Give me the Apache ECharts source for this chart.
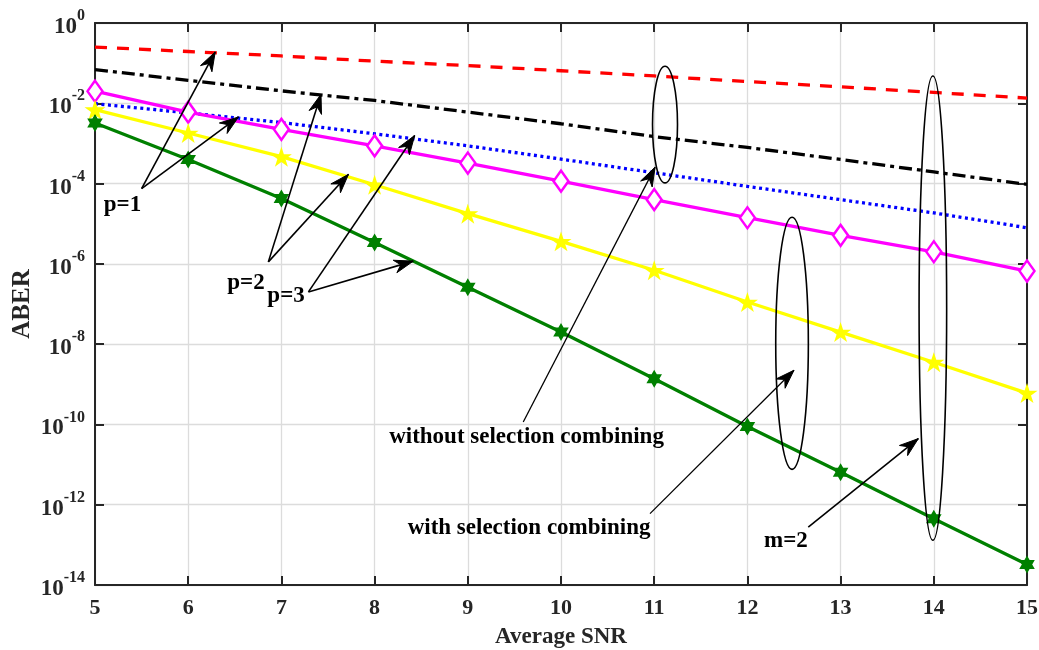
<!DOCTYPE html>
<html><head><meta charset="utf-8">
<script src="https://cdn.jsdelivr.net/npm/echarts@6/dist/echarts.min.js"></script>
<style>html,body{margin:0;padding:0;background:#fff}#c{width:1039px;height:650px}</style>
</head><body><div id="c"></div>
<script>
// ---- data ----
const snr = [5, 6, 7, 8, 9, 10, 11, 12, 13, 14, 15];
// without selection combining
const p1Without = [0.251, 0.195, 0.151, 0.112, 0.0871, 0.0646, 0.0479, 0.0347, 0.0257, 0.0186, 0.0135];
const p2Without = [0.0692, 0.0372, 0.0204, 0.01175, 0.00603, 0.00309, 0.00148, 7.94e-4, 3.98e-4, 1.95e-4, 9.55e-5];
const p3Without = [9.77e-3, 5.75e-3, 3.31e-3, 1.74e-3, 8.71e-4, 4.07e-4, 1.86e-4, 8.51e-5, 3.98e-5, 1.86e-5, 7.94e-6];
// with selection combining
const p1With = [0.0200, 6.03e-3, 2.24e-3, 8.71e-4, 3.24e-4, 1.15e-4, 3.98e-5, 1.41e-5, 5.13e-6, 2.00e-6, 6.61e-7];
const p2With = [6.92e-3, 1.82e-3, 4.68e-4, 9.33e-5, 1.78e-5, 3.63e-6, 6.92e-7, 1.12e-7, 2.00e-8, 3.55e-9, 6.03e-10];
const p3With = [3.24e-3, 3.98e-4, 4.27e-5, 3.39e-6, 2.63e-7, 2.00e-8, 1.38e-9, 8.91e-11, 6.46e-12, 4.47e-13, 3.24e-14];

const xTitle = 'Average SNR';
const yTitle = 'ABER';

// annotations (data coordinates)
const annoTexts = [
  { text: 'p=1', at: [5.295, 2.84e-5] },
  { text: 'p=2', at: [6.62, 3.27e-7] },
  { text: 'p=3', at: [7.05, 1.55e-7] },
  { text: 'without selection combining', at: [9.63, 4.85e-11] },
  { text: 'with selection combining', at: [9.657, 2.58e-13] },
  { text: 'm=2', at: [12.414, 1.22e-13] }
];
const annoArrows = [
  [[5.50, 7.5e-5], [6.29, 0.19]],
  [[5.50, 7.5e-5], [6.54, 4.57e-3]],
  [[6.86, 1.12e-6], [7.425, 1.67e-2]],
  [[6.86, 1.12e-6], [7.72, 1.70e-4]],
  [[7.29, 2.0e-7], [8.43, 1.58e-3]],
  [[7.29, 2.0e-7], [8.415, 1.17e-6]],
  [[12.653, 2.78e-13], [13.834, 4.43e-11]]
];
const annoLines = [
  [[9.595, 1.15e-10], [11.01, 2.57e-4]],
  [[10.955, 6.0e-13], [12.50, 2.24e-9]]
];
const annoEllipses = [
  [[10.982, 8.34e-2], [11.25, 1.04e-4]],
  [[12.304, 1.45e-5], [12.654, 7.6e-12]],
  [[13.842, 4.8e-2], [14.138, 1.30e-13]]
];

// ---- styles ----
const FONT = '"Liberation Serif", "Times New Roman", serif';
const AX = '#262626';
function starPath(n, inner) {
  let d = '';
  for (let i = 0; i < 2 * n; i++) {
    const r = i % 2 ? inner : 1;
    const a = -Math.PI / 2 + i * Math.PI / n;
    d += (i ? 'L' : 'M') + (r * Math.cos(a)).toFixed(4) + ' ' + (r * Math.sin(a)).toFixed(4);
  }
  return 'path://' + d + 'Z';
}
const pentagram = starPath(5, 0.382);
const hexagram = starPath(6, 0.577);

function pair(arr) { return snr.map((x, i) => [x, arr[i]]); }

const chart = echarts.init(document.getElementById('c'), null, { renderer: 'canvas' });

function yLabel(v) {
  const e = Math.round(Math.log10(v));
  return '{b|10}{s|' + e + '}';
}
const richY = {
  b: { fontSize: 23, lineHeight: 22, fontWeight: 'bold', fontFamily: FONT, color: AX, padding: [8, 0, 0, 0] },
  s: { fontSize: 16, lineHeight: 16, fontWeight: 'bold', fontFamily: FONT, color: AX, padding: [0, 0, 14, 0] }
};

const lineSeries = (name, data, color, type, extra) => Object.assign({
  name, type: 'line', data: pair(data), xAxisIndex: 0, yAxisIndex: 0,
  showSymbol: false, symbol: 'none',
  lineStyle: { color, width: 3.3, type },
  itemStyle: { color },
  z: 2
}, extra || {});

chart.setOption({
  animation: false,
  backgroundColor: '#fff',
  grid: { left: 95, right: 12, top: 23, bottom: 65, containLabel: false, outerBoundsMode: 'none' },
  xAxis: [{
    type: 'value', min: 5, max: 15, interval: 1, position: 'bottom',
    axisLine: { show: true, lineStyle: { color: AX, width: 2 } },
    axisTick: { show: true, inside: true, length: 9, lineStyle: { color: AX, width: 2 } },
    axisLabel: { margin: 12, color: AX, fontSize: 22, fontWeight: 'bold', fontFamily: FONT },
    splitLine: { show: true, lineStyle: { color: '#dcdcdc', width: 1.3 } },
    name: xTitle, nameLocation: 'middle', nameGap: 41, nameMoveOverlap: false,
    nameTextStyle: { color: AX, fontSize: 23, fontWeight: 'bold', fontFamily: FONT }
  }, {
    type: 'value', min: 5, max: 15, interval: 1, position: 'top',
    axisLine: { show: true, lineStyle: { color: AX, width: 2 } },
    axisTick: { show: true, inside: true, length: 9, lineStyle: { color: AX, width: 2 } },
    axisLabel: { show: false }, splitLine: { show: false }
  }],
  yAxis: [{
    type: 'log', logBase: 10, min: 1e-14, max: 1, interval: 2, position: 'left',
    axisLine: { show: true, lineStyle: { color: AX, width: 2 } },
    axisTick: { show: true, inside: true, length: 9, lineStyle: { color: AX, width: 2 } },
    axisLabel: { margin: 10, formatter: yLabel, rich: richY },
    splitLine: { show: true, lineStyle: { color: '#dcdcdc', width: 1.3 } },
    minorTick: { show: false }, minorSplitLine: { show: false },
    name: yTitle, nameLocation: 'middle', nameGap: 60, nameRotate: 90, nameMoveOverlap: false,
    nameTextStyle: { color: AX, fontSize: 25, fontWeight: 'bold', fontFamily: FONT }
  }, {
    type: 'log', logBase: 10, min: 1e-14, max: 1, interval: 2, position: 'right',
    axisLine: { show: true, lineStyle: { color: AX, width: 2 } },
    axisTick: { show: true, inside: true, length: 9, lineStyle: { color: AX, width: 2 } },
    axisLabel: { show: false }, splitLine: { show: false }
  }],
  series: [
    lineSeries('p=1 without SC', p1Without, '#ff0000', [12, 10]),
    lineSeries('p=2 without SC', p2Without, '#000000', [13, 5, 4, 5]),
    lineSeries('p=3 without SC', p3Without, '#0000ff', [3, 3.5]),
    lineSeries('p=1 with SC', p1With, '#ff00ff', 'solid', {
      showSymbol: true, symbol: 'diamond', symbolSize: [15, 21],
      itemStyle: { color: '#ffffff', borderColor: '#ff00ff', borderWidth: 2.5 }, z: 3
    }),
    lineSeries('p=2 with SC', p2With, '#ffff00', 'solid', {
      showSymbol: true, symbol: pentagram, symbolSize: 21, symbolKeepAspect: true,
      itemStyle: { color: '#ffff00' }, z: 3
    }),
    lineSeries('p=3 with SC', p3With, '#008000', 'solid', {
      showSymbol: true, symbol: hexagram, symbolSize: 18, symbolKeepAspect: true,
      itemStyle: { color: '#008000' }, z: 3
    })
  ]
});

// ---- annotations ----
const P = (pt) => chart.convertToPixel({ xAxisIndex: 0, yAxisIndex: 0 }, pt);
const graphics = [];
function arrowHead(tip, from) {
  const ang = Math.atan2(tip[1] - from[1], tip[0] - from[0]);
  const L = 19, W = 13, N = 13;
  const c = Math.cos(ang), s = Math.sin(ang);
  const loc = [[0, 0], [-L, W / 2], [-N, 0], [-L, -W / 2]];
  const pts = loc.map(([x, y]) => [tip[0] + x * c - y * s, tip[1] + x * s + y * c]);
  return { type: 'polygon', shape: { points: pts }, style: { fill: '#000', stroke: '#000', lineWidth: 1 }, z: 100 };
}
annoArrows.concat(annoLines).forEach(([a, b], i) => {
  const pa = P(a), pb = P(b);
  const thin = i >= annoArrows.length;
  graphics.push({ type: 'line', shape: { x1: pa[0], y1: pa[1], x2: pb[0], y2: pb[1] }, style: { stroke: '#000', lineWidth: thin ? 1.3 : 1.6 }, z: 100 });
  graphics.push(arrowHead(pb, pa));
});
annoEllipses.forEach(([a, b]) => {
  const pa = P(a), pb = P(b);
  graphics.push({ type: 'ellipse', shape: { cx: (pa[0] + pb[0]) / 2, cy: (pa[1] + pb[1]) / 2, rx: Math.abs(pb[0] - pa[0]) / 2, ry: Math.abs(pb[1] - pa[1]) / 2 },
    style: { fill: 'none', stroke: '#000', lineWidth: 1.6 }, z: 100 });
});
annoTexts.forEach(t => {
  const p = P(t.at);
  graphics.push({ type: 'text', x: p[0], y: p[1], style: { text: t.text, align: 'center', verticalAlign: 'middle', fontSize: 23, fontWeight: 'bold', fontFamily: FONT, fill: '#000' }, z: 101 });
});
chart.setOption({ graphic: graphics });
</script>
</body></html>
